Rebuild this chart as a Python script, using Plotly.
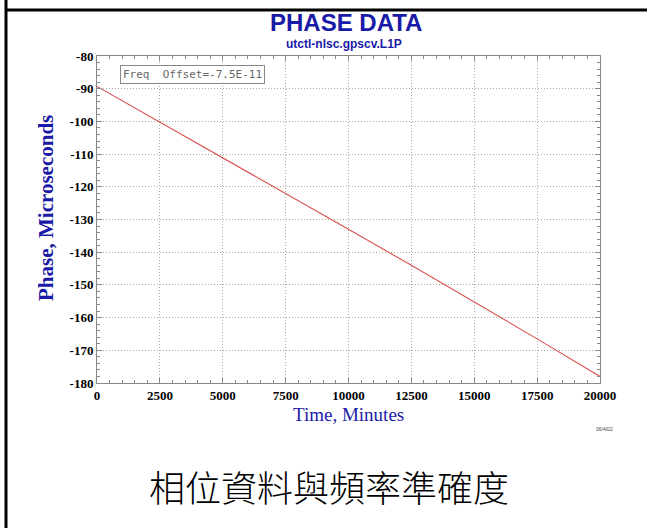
import plotly.graph_objects as go

# Data
time_minutes = [0, 2500, 5000, 7500, 10000, 12500, 15000, 17500, 20000]
phase_us = [-89.3, -100.2, -111.0, -122.0, -133.0, -144.0, -155.2, -166.5, -178.0]

x_ticks = [0, 2500, 5000, 7500, 10000, 12500, 15000, 17500, 20000]
y_ticks = [-80, -90, -100, -110, -120, -130, -140, -150, -160, -170, -180]

W, H = 647, 528
L, R, T, B = 97, 600, 56, 383

def px(x):
    return (x - L) / (R - L)

def py(y):
    return (B - y) / (B - T)

BLUE = "#1a1aa8"

fig = go.Figure()
fig.add_trace(go.Scatter(
    x=time_minutes, y=phase_us, mode="lines",
    line=dict(color="#d85050", width=1.1), showlegend=False,
))

axis_common = dict(
    showline=True, linecolor="#888888", linewidth=1, mirror="ticks",
    ticks="inside", ticklen=5, tickcolor="#888888",
    showgrid=True, gridcolor="#a8a8a8", griddash="1px,2px", gridwidth=1,
    zeroline=False,
    tickfont=dict(family="Liberation Serif", size=13, color="black", weight="bold"),
)

fig.update_xaxes(
    range=[0, 20000], tickvals=x_ticks, ticktext=[str(v) for v in x_ticks],
    minor=dict(dtick=500, ticks="inside", ticklen=3, tickcolor="#888888", showgrid=False),
    **axis_common,
)
fig.update_yaxes(
    range=[-180, -80], tickvals=y_ticks, ticktext=[str(v) for v in y_ticks],
    minor=dict(dtick=2, ticks="inside", ticklen=3, tickcolor="#888888", showgrid=False),
    **axis_common,
)

fig.update_layout(
    width=W, height=H,
    margin=dict(l=L, r=W - R, t=T, b=H - B),
    paper_bgcolor="white", plot_bgcolor="white",
    shapes=[
        dict(type="line", xref="paper", yref="paper", x0=px(6), x1=px(6), y0=py(0), y1=py(528),
             line=dict(color="black", width=3)),
        dict(type="line", xref="paper", yref="paper", x0=px(6), x1=px(647), y0=py(10), y1=py(10),
             line=dict(color="black", width=3)),
    ],
    annotations=[
        dict(text="PHASE DATA", xref="paper", yref="paper", x=px(346), y=py(22), showarrow=False,
             font=dict(family="Liberation Sans", size=24, color=BLUE, weight="bold"),
             xanchor="center", yanchor="middle"),
        dict(text="utctl-nlsc.gpscv.L1P", xref="paper", yref="paper", x=px(344), y=py(44), showarrow=False,
             font=dict(family="Liberation Sans", size=12, color=BLUE, weight="bold"),
             xanchor="center", yanchor="middle"),
        dict(text="Time, Minutes", xref="paper", yref="paper", x=px(348), y=py(414), showarrow=False,
             font=dict(family="Liberation Serif", size=19, color=BLUE),
             xanchor="center", yanchor="middle"),
        dict(text="Phase, Microseconds", xref="paper", yref="paper", x=px(46), y=py(208), showarrow=False,
             font=dict(family="Liberation Serif", size=21, color=BLUE, weight="bold"),
             textangle=-90, xanchor="center", yanchor="middle"),
        dict(text="Freq  Offset=-7.5E-11", xref="paper", yref="paper", x=px(120), y=py(74), showarrow=False,
             font=dict(family="DejaVu Sans Mono", size=11, color="#666666"),
             xanchor="left", yanchor="middle", bordercolor="#888888", borderwidth=1, borderpad=2,
             bgcolor="white"),
        dict(text="06/4/02", xref="paper", yref="paper", x=px(604), y=py(429), showarrow=False,
             font=dict(family="Liberation Sans", size=5, color="#444444"),
             xanchor="center", yanchor="middle"),
        dict(text="相位資料與頻率準確度", xref="paper", yref="paper", x=px(329), y=py(486), showarrow=False,
             font=dict(family="Noto Sans CJK TC", size=36, color="black", weight=300),
             xanchor="center", yanchor="middle"),
    ],
)

fig.write_html("out.html", config={"displayModeBar": False},
               post_script="document.body.style.margin='0';document.body.style.overflow='hidden';")
